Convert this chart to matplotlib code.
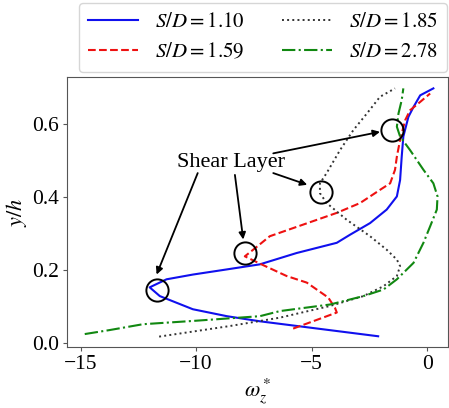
import matplotlib
matplotlib.use('Agg')
import matplotlib.pyplot as plt

plt.rcParams['font.family'] = ['Liberation Serif', 'DejaVu Serif']
plt.rcParams['mathtext.fontset'] = 'stix'

# vorticity profiles (x = omega_z*, y = y/h)
x_110 = [-2.12, -7.24, -8.67, -10.14, -11.57, -12.01, -11.28, -10.14, -8.68, -7.24,
         -5.65, -3.91, -3.34, -2.47, -1.75, -1.31, -1.17, -1.10, -1.03, -0.81, -0.59, -0.30, 0.27]
y_110 = [0.019, 0.060, 0.074, 0.093, 0.129, 0.153, 0.175, 0.188, 0.202, 0.216,
         0.247, 0.275, 0.297, 0.329, 0.366, 0.402, 0.447, 0.511, 0.566, 0.620, 0.647, 0.679, 0.698]

x_159 = [-5.80, -3.91, -3.99, -4.28, -5.21, -6.08, -7.24, -7.89, -7.53, -6.81, -5.36,
         -3.91, -2.90, -2.04, -1.60, -1.39, -1.31, -1.17, -0.95, -0.74, -0.30, 0.13]
y_159 = [0.040, 0.084, 0.097, 0.125, 0.166, 0.184, 0.218, 0.238, 0.256, 0.293, 0.325,
         0.357, 0.384, 0.420, 0.438, 0.475, 0.511, 0.557, 0.611, 0.638, 0.661, 0.684]

x_185 = [-11.60, -8.54, -6.37, -4.20, -2.76, -1.89, -1.31, -1.17, -1.31, -1.75, -2.47,
         -3.48, -4.35, -4.64, -4.64, -4.35, -3.77, -3.19, -2.61, -2.04, -1.39]
y_185 = [0.018, 0.047, 0.070, 0.102, 0.129, 0.156, 0.184, 0.211, 0.229, 0.256, 0.293,
         0.338, 0.384, 0.411, 0.438, 0.466, 0.529, 0.584, 0.629, 0.675, 0.698]

x_278 = [-14.82, -13.74, -12.30, -10.13, -7.24, -6.37, -4.20, -2.76, -1.89, -1.31, -0.59,
         -0.16, 0.13, 0.42, 0.45, 0.27, -0.16, -0.74, -1.17, -1.31, -1.24, -1.10, -1.03]
y_278 = [0.025, 0.036, 0.052, 0.061, 0.074, 0.088, 0.106, 0.129, 0.147, 0.175, 0.220,
         0.275, 0.320, 0.366, 0.402, 0.438, 0.475, 0.529, 0.566, 0.593, 0.629, 0.666, 0.698]

# shear layer markers and the arrows pointing at them
circle_x = [-11.7, -7.89, -4.61, -1.53]
circle_y = [0.145, 0.247, 0.413, 0.584]
arrow_from = [(-9.93, 0.466), (-8.32, 0.461), (-6.66, 0.466), (-6.66, 0.520)]
arrow_to = [(-11.71, 0.188), (-7.96, 0.284), (-5.19, 0.434), (-2.04, 0.579)]

fig = plt.figure(figsize=(4.49, 4.08), dpi=100)
ax = fig.add_axes([0.1486, 0.149, 0.849, 0.663])

ax.plot(x_110, y_110, color='#1010ee', ls='-', lw=1.5, label='$S/D = 1.10$')
ax.plot(x_159, y_159, color='#ee1111', ls='--', lw=1.5, label='$S/D = 1.59$')
ax.plot(x_185, y_185, color='#333333', ls=':', lw=1.4, label='$S/D = 1.85$')
ax.plot(x_278, y_278, color='#118811', ls='-.', lw=1.5, label='$S/D = 2.78$')

ax.plot(circle_x, circle_y, ls='none', marker='o', ms=16, mfc='none', mec='black', mew=1.4)

ax.text(-8.5, 0.495, 'Shear Layer', fontsize=16, ha='center', va='center')
for (x0, y0), (x1, y1) in zip(arrow_from, arrow_to):
    ax.annotate('', xy=(x1, y1), xytext=(x0, y0),
                arrowprops=dict(arrowstyle='-|>', color='black', lw=1.3,
                                mutation_scale=10, shrinkA=0, shrinkB=0))

ax.set_xlim(-15.6, 0.9)
ax.set_ylim(-0.011, 0.73)
ax.set_xticks([-15, -10, -5, 0])
ax.set_yticks([0.0, 0.2, 0.4, 0.6])
ax.tick_params(labelsize=15.5, length=3, color='#555555', pad=2.5)
for s in ax.spines.values():
    s.set_color('#555555')

ax.set_xlabel(r'$\omega_z^*$', fontsize=16, labelpad=2)
ax.set_ylabel('$y/h$', fontsize=16, labelpad=2)

fig.legend(loc='upper right', bbox_to_anchor=(447 / 449, 1 - 3 / 408), ncol=2,
           fontsize=15, handlelength=2.4, columnspacing=1.8, labelspacing=0.5,
           borderpad=0.45, frameon=True, borderaxespad=0)

fig.savefig('out.png', dpi=100)
